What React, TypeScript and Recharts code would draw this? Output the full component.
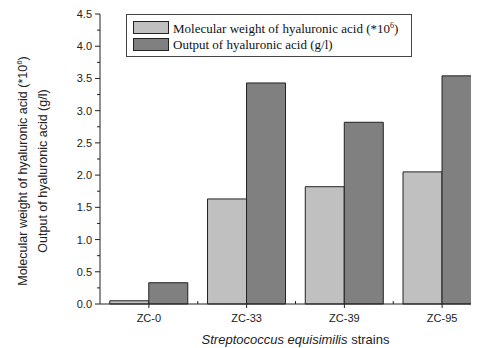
import React from 'react';
import { BarChart, Bar, XAxis, YAxis, Legend, Label } from 'recharts';

// strain names on the x axis
const strains = ['ZC-0', 'ZC-33', 'ZC-39', 'ZC-95'];
// molecular weight of hyaluronic acid (*10^6)
const molecularWeight = [0.05, 1.63, 1.82, 2.05];
// output of hyaluronic acid (g/l)
const output = [0.33, 3.43, 2.82, 3.54];
// y ticks: majors carry a label, quarters are minor
const yTicks = [0, 0.25, 0.5, 0.75, 1, 1.25, 1.5, 1.75, 2, 2.25, 2.5, 2.75, 3, 3.25, 3.5, 3.75, 4, 4.25, 4.5];
const yLabels = ['0.0', '0.5', '1.0', '1.5', '2.0', '2.5', '3.0', '3.5', '4.0', '4.5'];

const LIGHT = '#c0c0c0';
const DARK = '#808080';
const EDGE = '#222';
const SANS = '"Liberation Sans", Arial, sans-serif';
const SERIF = '"Liberation Serif", "Times New Roman", serif';

const data = strains.map((name, i) => ({ name, mw: molecularWeight[i], out: output[i] }));

const YTick = ({ x, y, payload }: any) => {
  const idx = yLabels.findIndex((l) => parseFloat(l) === payload.value);
  const major = idx >= 0;
  return (
    <g>
      <line x1={x - (major ? 5 : 3)} x2={x} y1={y} y2={y} stroke={EDGE} />
      {major && (
        <text x={x - 8} y={y + 4} textAnchor="end" fontFamily={SANS} fontSize={11} fill="#222">
          {yLabels[idx]}
        </text>
      )}
    </g>
  );
};

const XTick = ({ x, y, payload }: any) => (
  <g>
    <line x1={x} x2={x} y1={y} y2={y + 4} stroke={EDGE} />
    <line x1={x + payload.offset} x2={x + payload.offset} y1={y} y2={y - 3} stroke={EDGE} />
    <text x={x} y={y + 18} textAnchor="middle" fontFamily={SANS} fontSize={11} fill="#222">
      {payload.value}
    </text>
  </g>
);

const YTitle = ({ viewBox }: any) => {
  const cy = viewBox.y + viewBox.height / 2 + 12;
  return (
    <g fontFamily={SANS} fontSize={12.5} fill="#222" textAnchor="middle">
      <text transform={`translate(19, ${cy}) rotate(-90)`}>
        Molecular weight of hyaluronic acid (*10<tspan dy={-5} fontSize={8}>6</tspan><tspan dy={5}>)</tspan>
      </text>
      <text transform={`translate(39, ${cy}) rotate(-90)`}>Output of hyaluronic acid (g/l)</text>
    </g>
  );
};

const XTitle = ({ viewBox }: any) => (
  <text
    x={viewBox.x + viewBox.width / 2}
    y={viewBox.y + 40}
    textAnchor="middle"
    fontFamily={SANS}
    fontSize={13}
    fill="#222"
  >
    <tspan fontStyle="italic">Streptococcus equisimilis</tspan> strains
  </text>
);

const LegendBox = () => {
  const rows = [
    { color: LIGHT, label: <>Molecular weight of hyaluronic acid (*10<sup style={{ fontSize: 8 }}>6</sup>)</> },
    { color: DARK, label: <>Output of hyaluronic acid (g/l)</> },
  ];
  return (
    <div
      style={{
        width: 284,
        height: 41,
        border: '1px solid #444',
        background: '#fff',
        fontFamily: SERIF,
        fontSize: 13,
        color: '#111',
        boxSizing: 'content-box',
      }}
    >
      {rows.map((r, i) => (
        <div key={i} style={{ display: 'flex', alignItems: 'center', height: 17, marginTop: i === 0 ? 4 : 0 }}>
          <span
            style={{
              display: 'inline-block',
              width: 34,
              height: 11,
              marginLeft: 6,
              marginRight: 4,
              background: r.color,
              border: `1px solid ${EDGE}`,
            }}
          />
          <span style={{ lineHeight: '17px' }}>{r.label}</span>
        </div>
      ))}
    </div>
  );
};

export default function App() {
  return (
    <div style={{ width: 471, height: 340, overflow: 'hidden', background: '#fff' }}>
      <BarChart
        width={500}
        height={340}
        data={data}
        margin={{ top: 6, right: 17, left: 0, bottom: 0 }}
        barCategoryGap="10%"
        barGap={0}
      >
        <XAxis
          dataKey="name"
          height={44}
          stroke={EDGE}
          tickLine={false}
          tickSize={0}
          tickMargin={0}
          tick={<XTick />}
          interval={0}
        >
          <Label content={<XTitle />} />
        </XAxis>
        <YAxis
          width={92}
          domain={[0, 4.5]}
          ticks={yTicks}
          stroke={EDGE}
          tickLine={false}
          tickSize={0}
          tickMargin={0}
          tick={<YTick />}
          interval={0}
        >
          <Label content={<YTitle />} />
        </YAxis>
        <Legend
          layout="vertical"
          align="center"
          verticalAlign="middle"
          content={<LegendBox />}
          wrapperStyle={{ left: 118, top: 6, width: 'auto' }}
        />
        <Bar dataKey="mw" fill={LIGHT} stroke={EDGE} isAnimationActive={false} />
        <Bar dataKey="out" fill={DARK} stroke={EDGE} isAnimationActive={false} />
      </BarChart>
    </div>
  );
}
